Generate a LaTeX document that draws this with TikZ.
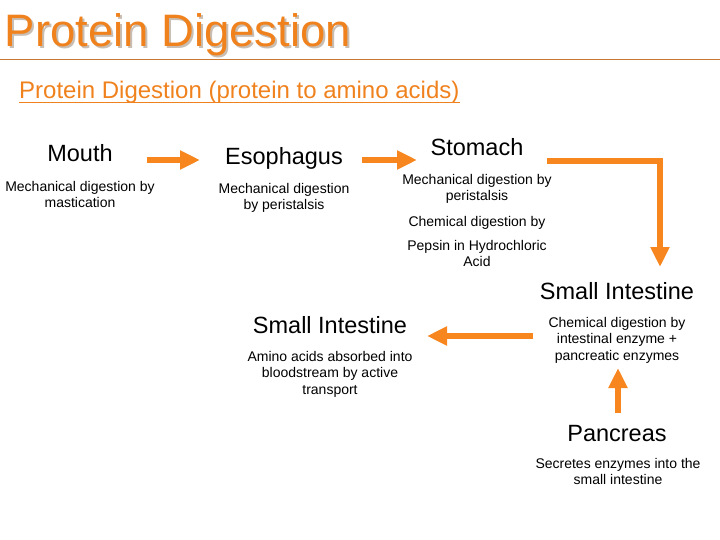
\documentclass[tikz,border=0pt]{standalone}
\usepackage{fontspec}
\setmainfont{Liberation Sans}
\usetikzlibrary{arrows.meta}
\definecolor{orng}{RGB}{247,134,31}
\definecolor{titlec}{RGB}{240,130,30}
\definecolor{shadowc}{RGB}{200,190,180}
\definecolor{rulec}{RGB}{200,120,50}
\tikzset{
  head/.style={anchor=base, inner sep=0pt, font=\fontsize{23.5}{28}\selectfont},
  desc/.style={anchor=north, inner sep=0pt, align=center, font=\fontsize{14}{16.5}\selectfont},
  arr/.style={draw=orng, line width=6pt, line join=miter, -{Triangle[width=18pt,length=20pt]}},
}
\begin{document}
\begin{tikzpicture}[x=1pt,y=-1pt]
\useasboundingbox (0,0) rectangle (720,540);
% title
\node[anchor=base west, inner sep=0pt, font=\fontsize{45.5}{50}\selectfont, text=shadowc] (titleshadow) at (6.5,49) {Protein Digestion};
\node[anchor=base west, inner sep=0pt, font=\fontsize{45.5}{50}\selectfont, text=titlec] (title) at (4.5,47) {Protein Digestion};
\coordinate (ruleL) at (0,60);
\coordinate (ruleR) at (720,60);
\draw[rulec, line width=1pt] (ruleL) -- (ruleR);
% subtitle
\node[anchor=base west, inner sep=0pt, font=\fontsize{24}{28}\selectfont, text=titlec] (sub) at (19,99) {Protein Digestion (protein to amino acids)};
\draw[titlec, line width=1.3pt] ([yshift=-3.5pt]sub.base west) -- ([yshift=-3.5pt]sub.base east);
% headers
\node[head] (mouth) at (80,162) {Mouth};
\node[head] (esoph) at (284,165) {Esophagus};
\node[head] (stom) at (477,156) {Stomach};
\node[head] (sir) at (617,299) {Small Intestine};
\node[head] (sil) at (330,333) {Small Intestine};
\node[head] (panc) at (617,441) {Pancreas};
% descriptions
\node[desc] (mouthd) at (80,181) {Mechanical digestion by\\mastication};
\node[desc] (esophd) at (284,183) {Mechanical digestion\\by peristalsis};
\node[desc] (stomd1) at (477,174) {Mechanical digestion by\\peristalsis};
\node[desc] (stomd2) at (477,216) {Chemical digestion by};
\node[desc] (stomd3) at (477,240) {Pepsin in Hydrochloric\\Acid};
\node[desc] (sird) at (617,317) {Chemical digestion by\\intestinal enzyme +\\pancreatic enzymes};
\node[desc] (sild) at (330,351) {Amino acids absorbed into\\bloodstream by active\\transport};
\node[desc] (pancd) at (618,458) {Secretes enzymes into the\\small intestine};
% arrow end points
\coordinate (a1s) at (147,160);
\coordinate (a1e) at (200,160);
\coordinate (a2s) at (362,160);
\coordinate (a2e) at (417,160);
\coordinate (a3s) at (547,161);
\coordinate (a3c) at (660,161);
\coordinate (a3e) at (660,267);
\coordinate (a4s) at (533,336);
\coordinate (a4e) at (427,336);
\coordinate (a5s) at (618,413);
\coordinate (a5e) at (618,368);
\draw[arr] (a1s) -- (a1e);
\draw[arr] (a2s) -- (a2e);
\draw[arr] (a3s) -- (a3c) -- (a3e);
\draw[arr] (a4s) -- (a4e);
\draw[arr] (a5s) -- (a5e);
\end{tikzpicture}
\end{document}
